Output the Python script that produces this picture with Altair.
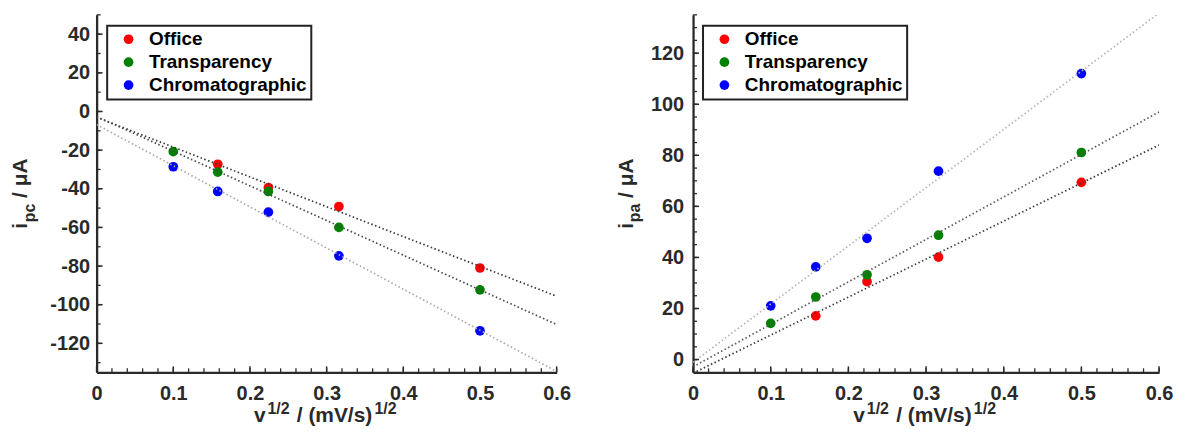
import altair as alt
import pandas as pd

# ---------------- data ----------------
sqrt_v = [0.1, 0.158, 0.224, 0.316, 0.5]
series = ["Office", "Transparency", "Chromatographic"]
point_colors = ["#ff0000", "#008000", "#0000ff"]

# cathodic peak current i_pc (uA)
ipc_office = [None, -27.3, -39.4, -49.2, -81.0]
ipc_transparency = [-20.8, -31.4, -41.4, -60.0, -92.3]
ipc_chromatographic = [-28.6, -41.4, -52.1, -74.7, -113.5]

# anodic peak current i_pa (uA)
ipa_office = [None, 17.1, 30.5, 40.1, 69.4]
ipa_transparency = [14.2, 24.5, 33.2, 48.7, 81.1]
ipa_chromatographic = [21.05, 36.3, 47.5, 73.8, 112.0]

x_major = [0, 0.1, 0.2, 0.3, 0.4, 0.5, 0.6]
x_minor = [round(i * 0.02, 2) for i in range(31)]
yc_major = [-120, -100, -80, -60, -40, -20, 0, 20, 40]
yc_minor = list(range(-130, 51, 10))
ya_major = [0, 20, 40, 60, 80, 100, 120]
ya_minor = list(range(-5, 136, 5))

FONT = "Liberation Sans"
AXC = "#2a2a2a"
H = 359


def table(values_by_series):
    rows = []
    for s, vals in zip(series, values_by_series):
        for xv, yv in zip(sqrt_v, vals):
            if yv is not None:
                rows.append({"x": xv, "y": yv, "series": s})
    return pd.DataFrame(rows)


def one_row():
    return alt.Data(values=[{"k": 1}])


def panel(vals, ydom, ymajor, yminor, W, sub, ylab_pad, title_bx, legx, line_colors):
    df = table(vals)
    xax = alt.Axis(values=x_major, title=None, ticks=False, grid=False,
                   domainColor=AXC, domainWidth=2.3, labelFont=FONT,
                   labelFontWeight="bold", labelFontSize=20, labelColor=AXC,
                   labelPadding=11, labelFlush=False,
                   labelExpr="'' + datum.value")
    yax = alt.Axis(values=ymajor, title=None, ticks=False, grid=False,
                   domainColor=AXC, domainWidth=2.3, labelFont=FONT,
                   labelFontWeight="bold", labelFontSize=20, labelColor=AXC,
                   labelPadding=ylab_pad, labelFlush=False,
                   labelExpr="'' + datum.value")
    X = alt.X("x:Q", scale=alt.Scale(domain=[0, 0.6], nice=False, zero=False), axis=xax)
    Y = alt.Y("y:Q", scale=alt.Scale(domain=ydom, nice=False, zero=False), axis=yax)

    leg = alt.Legend(orient="none", legendX=legx, legendY=11, title=None,
                     direction="vertical", labelFont=FONT, labelFontWeight="bold",
                     labelFontSize=19, labelColor="black", symbolType="circle",
                     symbolSize=95, symbolStrokeWidth=0, padding=4,
                     rowPadding=3, symbolOffset=8, labelOffset=11,
                     strokeColor="#222222", fillColor="white")

    points = alt.Chart(df).mark_circle(size=95, opacity=1).encode(
        x=X, y=Y,
        fill=alt.Fill("series:N", scale=alt.Scale(domain=series, range=point_colors),
                      legend=leg, sort=series),
    )
    lines = alt.Chart(df).transform_regression(
        "x", "y", groupby=["series"], extent=[0, 0.6]
    ).mark_line(clip=True, strokeDash=[1.5, 2.5], strokeWidth=1.7).encode(
        x=X, y=Y,
        stroke=alt.Stroke("series:N", scale=alt.Scale(domain=series, range=line_colors),
                          legend=None),
    )
    ytm = alt.Chart(pd.DataFrame({"y": yminor})).mark_rule(color=AXC, strokeWidth=1.3).encode(
        y=Y, x=alt.value(0), x2=alt.value(4))
    ytM = alt.Chart(pd.DataFrame({"y": ymajor})).mark_rule(color=AXC, strokeWidth=1.5).encode(
        y=Y, x=alt.value(0), x2=alt.value(6))
    xtm = alt.Chart(pd.DataFrame({"x": x_minor})).mark_rule(color=AXC, strokeWidth=1.3).encode(
        x=X, y=alt.value(H), y2=alt.value(H - 4))
    xtM = alt.Chart(pd.DataFrame({"x": x_major})).mark_rule(color=AXC, strokeWidth=1.5).encode(
        x=X, y=alt.value(H), y2=alt.value(H - 6))

    def txt(s, size, px, py, angle=0):
        kw = dict(text=s, font=FONT, fontWeight="bold", fontSize=size, color=AXC,
                  align="left", baseline="alphabetic")
        if angle:
            kw["angle"] = angle
        return alt.Chart(one_row()).mark_text(**kw).encode(x=alt.value(px), y=alt.value(py))

    x0 = W / 2 - 73
    yb = H + 50
    xt = [
        txt("v", 21, x0, yb),
        txt("1/2", 16, x0 + 13.5, yb - 8),
        txt("/ (mV/s)", 21, x0 + 43, yb),
        txt("1/2", 16, x0 + 121, yb - 8),
    ]
    y0 = H / 2 + 35.3
    yt = [
        txt("i", 21, title_bx, y0, 270),
        txt(sub, 16, title_bx + 7.5, y0 - 6.5, 270),
        txt("/ \u03bcA", 21, title_bx, y0 - 31, 270),
    ]
    return alt.layer(points, lines, ytm, ytM, xtm, xtM, *xt, *yt).properties(
        width=W, height=H)


left = panel([ipc_office, ipc_transparency, ipc_chromatographic], [-135, 50],
             yc_major, yc_minor, 462, "pc", 7, -69.5, 10.6,
             ["#383838", "#484848", "#a8a8a8"])
right = panel([ipa_office, ipa_transparency, ipa_chromatographic], [-5, 135],
              ya_major, ya_minor, 468, "pa", 9.5, -60.3, 10,
              ["#383838", "#5a5a5a", "#b4b4b4"])

chart = alt.hconcat(left, right, spacing=45).resolve_scale(
    x="independent", y="independent", fill="independent", stroke="independent"
).resolve_legend(fill="independent").properties(
    padding={"left": 2, "top": 5, "right": 0, "bottom": 0}
).configure_view(stroke=None).configure_legend(strokeWidth=2)

chart.save("out.html", embed_options={"renderer": "svg", "actions": False})
